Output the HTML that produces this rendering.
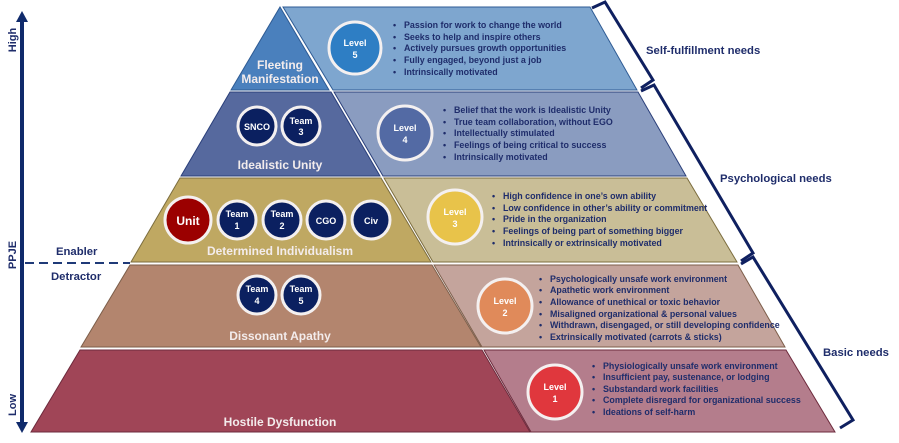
<!DOCTYPE html>
<html><head><meta charset="utf-8"><style>
body{margin:0;background:#fff;width:899px;height:438px;overflow:hidden}
svg text{font-family:"Liberation Sans",sans-serif;font-weight:bold}
.b{fill:#1f2d6b;font-size:8.9px}
.h{fill:#f3ecec;font-size:12px;text-anchor:middle}
.c{fill:#fff;font-size:9px;text-anchor:middle}
.n{fill:#1f2d6b;font-size:11.3px}
</style></head><body>
<svg width="899" height="438" viewBox="0 0 899 438" xmlns="http://www.w3.org/2000/svg">
<polygon points="283,7 590,7 637,90 333,90" fill="#7ea6cf" stroke="#2e5b94" stroke-width="1"/>
<polygon points="334,92 638,92 686,176 383,176" fill="#8a9cc0" stroke="#2a3f7a" stroke-width="1"/>
<polygon points="384,178 687,178 737,262 433,262" fill="#c9be97" stroke="#7c6d3e" stroke-width="1"/>
<polygon points="434,265 738,265 785,347 482,347" fill="#c4a49c" stroke="#7d5e4a" stroke-width="1"/>
<polygon points="484,350 786,350 835,432 531,432" fill="#b47d8c" stroke="#6d2a3c" stroke-width="1"/>
<polygon points="280,7 329,90 231,90" fill="#4a80bd" stroke="#2e5b94" stroke-width="1"/>
<polygon points="230,92 331,92 380,176 181,176" fill="#56699e" stroke="#2a3f7a" stroke-width="1"/>
<polygon points="180,178 381,178 431,262 131,262" fill="#bfa862" stroke="#7c6d3e" stroke-width="1"/>
<polygon points="130,265 432,265 481,347 81,347" fill="#b3856e" stroke="#7d5e4a" stroke-width="1"/>
<polygon points="80,350 482,350 530,432 31,432" fill="#a04557" stroke="#6d2a3c" stroke-width="1"/>
<g fill="none" stroke="#0f2060" stroke-width="3">
<polyline points="592,8 605,2 653,80 641,88"/>
<polyline points="641,91 654,85 753,253 741,261"/>
<polyline points="741,264 753,257 853,420 840,428"/>
</g>
<text class="n" x="646" y="54">Self-fulfillment needs</text>
<text class="n" x="720" y="182">Psychological needs</text>
<text class="n" x="823" y="356">Basic needs</text>
<line x1="22" y1="20" x2="22" y2="424" stroke="#0f2a6b" stroke-width="4"/>
<polygon points="22,11 16,22 28,22" fill="#0f2a6b"/>
<polygon points="22,433 16,422 28,422" fill="#0f2a6b"/>
<line x1="25" y1="263" x2="130" y2="263" stroke="#1f3a78" stroke-width="2" stroke-dasharray="9,5"/>
<text class="n" transform="translate(16,40) rotate(-90)" text-anchor="middle" style="font-size:11px">High</text>
<text class="n" transform="translate(16,255) rotate(-90)" text-anchor="middle" style="font-size:11px">PPJE</text>
<text class="n" transform="translate(16,405) rotate(-90)" text-anchor="middle" style="font-size:11px">Low</text>
<text class="n" x="56" y="255">Enabler</text>
<text class="n" x="51" y="280">Detractor</text>
<text class="h" x="280" y="69">Fleeting</text>
<text class="h" x="280" y="83">Manifestation</text>
<text class="h" x="280" y="169">Idealistic Unity</text>
<text class="h" x="280" y="255">Determined Individualism</text>
<text class="h" x="280" y="340">Dissonant Apathy</text>
<text class="h" x="280" y="426">Hostile Dysfunction</text>
<g stroke="#f4f0f0" stroke-width="3">
<circle cx="355" cy="48" r="26" fill="#2e7ec4"/>
<circle cx="405" cy="133" r="27" fill="#536aa4"/>
<circle cx="455" cy="217" r="27" fill="#e8c34a"/>
<circle cx="505" cy="306" r="27" fill="#e08a5a"/>
<circle cx="555" cy="392" r="27" fill="#e0373d"/>
<circle cx="257" cy="126" r="19" fill="#0b2060"/>
<circle cx="301" cy="126" r="19" fill="#0b2060"/>
<circle cx="188" cy="220" r="23" fill="#9b0000"/>
<circle cx="237" cy="220" r="19" fill="#0b2060"/>
<circle cx="282" cy="220" r="19" fill="#0b2060"/>
<circle cx="326" cy="220" r="19" fill="#0b2060"/>
<circle cx="371" cy="220" r="19" fill="#0b2060"/>
<circle cx="257" cy="295" r="19" fill="#0b2060"/>
<circle cx="301" cy="295" r="19" fill="#0b2060"/>
</g>
<text class="c" x="355" y="46">Level</text><text class="c" x="355" y="58">5</text>
<text class="c" x="405" y="131">Level</text><text class="c" x="405" y="143">4</text>
<text class="c" x="455" y="215" fill="#f3e6b0">Level</text><text class="c" x="455" y="227">3</text>
<text class="c" x="505" y="304">Level</text><text class="c" x="505" y="316">2</text>
<text class="c" x="555" y="390">Level</text><text class="c" x="555" y="402">1</text>
<text class="c" x="257" y="130">SNCO</text>
<text class="c" x="301" y="124">Team</text><text class="c" x="301" y="135">3</text>
<text class="c" x="188" y="225" style="font-size:12px">Unit</text>
<text class="c" x="237" y="217">Team</text><text class="c" x="237" y="229">1</text>
<text class="c" x="282" y="217">Team</text><text class="c" x="282" y="229">2</text>
<text class="c" x="326" y="224">CGO</text>
<text class="c" x="371" y="224">Civ</text>
<text class="c" x="257" y="292">Team</text><text class="c" x="257" y="304">4</text>
<text class="c" x="301" y="292">Team</text><text class="c" x="301" y="304">5</text>
<g class="b">
<text x="393" y="28">•</text><text x="404" y="28">Passion for work to change the world</text>
<text x="393" y="40">•</text><text x="404" y="40">Seeks to help and inspire others</text>
<text x="393" y="51">•</text><text x="404" y="51">Actively pursues growth opportunities</text>
<text x="393" y="63">•</text><text x="404" y="63">Fully engaged, beyond just a job</text>
<text x="393" y="75">•</text><text x="404" y="75">Intrinsically motivated</text>
<text x="443" y="113">•</text><text x="454" y="113">Belief that the work is Idealistic Unity</text>
<text x="443" y="125">•</text><text x="454" y="125">True team collaboration, without EGO</text>
<text x="443" y="136">•</text><text x="454" y="136">Intellectually stimulated</text>
<text x="443" y="148">•</text><text x="454" y="148">Feelings of being critical to success</text>
<text x="443" y="160">•</text><text x="454" y="160">Intrinsically motivated</text>
<text x="492" y="199">•</text><text x="503" y="199">High confidence in one’s own ability</text>
<text x="492" y="211">•</text><text x="503" y="211">Low confidence in other’s ability or commitment</text>
<text x="492" y="222">•</text><text x="503" y="222">Pride in the organization</text>
<text x="492" y="234">•</text><text x="503" y="234">Feelings of being part of something bigger</text>
<text x="492" y="246">•</text><text x="503" y="246">Intrinsically or extrinsically motivated</text>
<text x="539" y="282">•</text><text x="550" y="282">Psychologically unsafe work environment</text>
<text x="539" y="293">•</text><text x="550" y="293">Apathetic work environment</text>
<text x="539" y="305">•</text><text x="550" y="305">Allowance of unethical or toxic behavior</text>
<text x="539" y="317">•</text><text x="550" y="317">Misaligned organizational &amp; personal values</text>
<text x="539" y="328">•</text><text x="550" y="328">Withdrawn, disengaged, or still developing confidence</text>
<text x="539" y="340">•</text><text x="550" y="340">Extrinsically motivated (carrots &amp; sticks)</text>
<text x="592" y="369">•</text><text x="603" y="369">Physiologically unsafe work environment</text>
<text x="592" y="380">•</text><text x="603" y="380">Insufficient pay, sustenance, or lodging</text>
<text x="592" y="392">•</text><text x="603" y="392">Substandard work facilities</text>
<text x="592" y="403">•</text><text x="603" y="403">Complete disregard for organizational success</text>
<text x="592" y="415">•</text><text x="603" y="415">Ideations of self-harm</text>
</g>
</svg>
</body></html>
